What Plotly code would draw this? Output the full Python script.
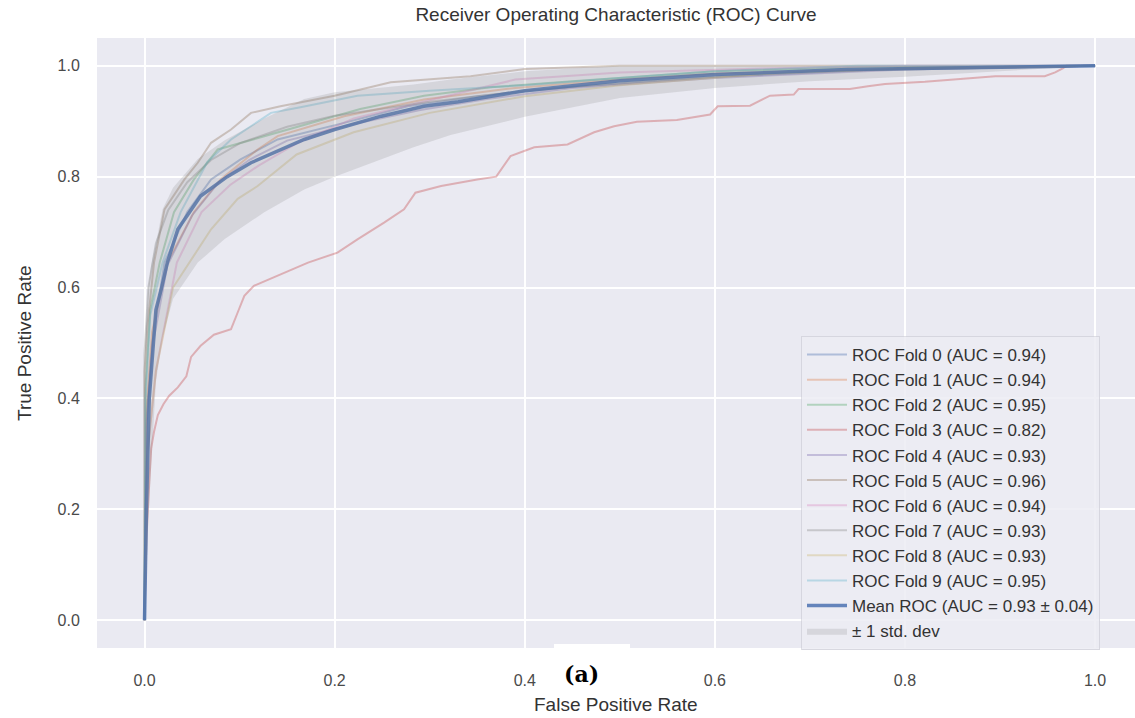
import plotly.graph_objects as go

# ---------------- data ----------------
fold_names = [f"ROC Fold {i}" for i in range(10)]
fold_auc = [0.94, 0.94, 0.95, 0.82, 0.93, 0.96, 0.94, 0.93, 0.93, 0.95]
fold_colors = ["#4C72B0", "#DD8452", "#55A868", "#C44E52", "#8172B3",
               "#937860", "#DA8BC3", "#8C8C8C", "#CCB974", "#64B5CD"]

fold0_fpr = [0, 0.002, 0.008, 0.021, 0.045, 0.07, 0.101, 0.14, 0.21, 0.277, 0.35, 0.45, 0.6, 0.8, 1.0]
fold0_tpr = [0, 0.36, 0.5, 0.645, 0.736, 0.795, 0.831, 0.867, 0.897, 0.927, 0.945, 0.962, 0.98, 0.995, 1.0]

fold1_fpr = [0, 0.002, 0.008, 0.024, 0.052, 0.08, 0.119, 0.14, 0.21, 0.294, 0.39, 0.5, 0.6, 0.8, 1.0]
fold1_tpr = [0, 0.38, 0.52, 0.645, 0.736, 0.795, 0.849, 0.873, 0.909, 0.939, 0.96, 0.975, 0.986, 0.995, 1.0]

fold2_fpr = [0, 0.001, 0.006, 0.016, 0.031, 0.052, 0.077, 0.11, 0.15, 0.227, 0.294, 0.364, 0.45, 0.6, 0.75, 1.0]
fold2_tpr = [0, 0.42, 0.56, 0.645, 0.736, 0.795, 0.849, 0.865, 0.885, 0.922, 0.946, 0.961, 0.972, 0.99, 0.997, 1.0]

fold3_fpr = [0, 0.002, 0.005, 0.007, 0.010, 0.014, 0.020, 0.026, 0.035, 0.044, 0.049, 0.059, 0.073,
             0.091, 0.098, 0.105, 0.115, 0.14, 0.172, 0.203, 0.224, 0.252, 0.273, 0.285, 0.312, 0.35,
             0.37, 0.385, 0.41, 0.445, 0.473, 0.494, 0.518, 0.56, 0.595, 0.603, 0.637, 0.658, 0.683,
             0.688, 0.742, 0.761, 0.779, 0.821, 0.856, 0.895, 0.947, 0.958, 0.966, 0.97, 1.0]
fold3_tpr = [0, 0.15, 0.25, 0.31, 0.34, 0.37, 0.39, 0.405, 0.42, 0.44, 0.475, 0.495, 0.515,
             0.525, 0.555, 0.585, 0.603, 0.621, 0.645, 0.663, 0.687, 0.717, 0.741, 0.771, 0.783, 0.795,
             0.80, 0.837, 0.853, 0.858, 0.88, 0.891, 0.899, 0.902, 0.912, 0.927, 0.928, 0.946, 0.948,
             0.958, 0.958, 0.963, 0.967, 0.971, 0.976, 0.981, 0.981, 0.988, 0.995, 1.0, 1.0]

fold4_fpr = [0, 0.002, 0.009, 0.024, 0.05, 0.078, 0.11, 0.15, 0.22, 0.29, 0.36, 0.45, 0.6, 0.8, 1.0]
fold4_tpr = [0, 0.35, 0.5, 0.64, 0.73, 0.79, 0.83, 0.865, 0.895, 0.92, 0.94, 0.96, 0.978, 0.993, 1.0]

fold5_fpr = [0, 0.0, 0.003, 0.010, 0.021, 0.032, 0.042, 0.056, 0.070, 0.091, 0.112, 0.143, 0.20, 0.259, 0.343, 0.40, 0.50, 0.65, 1.0]
fold5_tpr = [0, 0.45, 0.53, 0.645, 0.741, 0.77, 0.795, 0.825, 0.861, 0.885, 0.915, 0.927, 0.946, 0.97, 0.981, 0.994, 1.0, 1.0, 1.0]

fold6_fpr = [0, 0.003, 0.012, 0.034, 0.06, 0.09, 0.12, 0.16, 0.22, 0.283, 0.39, 0.5, 0.65, 0.8, 1.0]
fold6_tpr = [0, 0.30, 0.45, 0.645, 0.736, 0.785, 0.82, 0.86, 0.905, 0.931, 0.975, 0.988, 0.995, 1.0, 1.0]

fold7_fpr = [0, 0.0, 0.004, 0.012, 0.025, 0.045, 0.07, 0.1, 0.15, 0.2, 0.3, 0.4, 0.55, 0.7, 1.0]
fold7_tpr = [0, 0.48, 0.6, 0.68, 0.74, 0.79, 0.83, 0.86, 0.89, 0.91, 0.935, 0.955, 0.975, 0.99, 1.0]

fold8_fpr = [0, 0.003, 0.012, 0.03, 0.07, 0.098, 0.119, 0.16, 0.22, 0.3, 0.4, 0.5, 0.65, 0.8, 1.0]
fold8_tpr = [0, 0.3, 0.45, 0.6, 0.705, 0.76, 0.783, 0.84, 0.88, 0.915, 0.945, 0.965, 0.985, 0.995, 1.0]

fold9_fpr = [0, 0.001, 0.006, 0.019, 0.038, 0.066, 0.091, 0.133, 0.164, 0.224, 0.30, 0.40, 0.50, 0.60, 0.75, 1.0]
fold9_tpr = [0, 0.40, 0.55, 0.645, 0.736, 0.826, 0.867, 0.915, 0.925, 0.946, 0.955, 0.965, 0.978, 0.99, 1.0, 1.0]

fold_fpr = [fold0_fpr, fold1_fpr, fold2_fpr, fold3_fpr, fold4_fpr,
            fold5_fpr, fold6_fpr, fold7_fpr, fold8_fpr, fold9_fpr]
fold_tpr = [fold0_tpr, fold1_tpr, fold2_tpr, fold3_tpr, fold4_tpr,
            fold5_tpr, fold6_tpr, fold7_tpr, fold8_tpr, fold9_tpr]

mean_fpr = [0, 0.002, 0.005, 0.012, 0.018, 0.024, 0.035, 0.059, 0.087, 0.112, 0.168, 0.20,
            0.249, 0.294, 0.33, 0.40, 0.50, 0.60, 0.74, 0.85, 1.0]
mean_tpr = [0, 0.20, 0.40, 0.56, 0.60, 0.645, 0.705, 0.765, 0.80, 0.825, 0.867, 0.885,
            0.909, 0.927, 0.935, 0.955, 0.973, 0.984, 0.993, 0.996, 1.0]
mean_auc = 0.93
std_auc = 0.04

band_fpr = [0, 0.001, 0.004, 0.007, 0.012, 0.019, 0.03, 0.056, 0.084, 0.126, 0.168, 0.2,
            0.283, 0.322, 0.4, 0.5, 0.6, 0.7, 0.8, 0.9, 1.0]
band_lower = [0, 0.04, 0.18, 0.278, 0.43, 0.51, 0.58, 0.645, 0.687, 0.736, 0.777, 0.80,
              0.853, 0.875, 0.908, 0.942, 0.96, 0.972, 0.98, 0.99, 1.0]
band_upper = [0.42, 0.52, 0.6, 0.64, 0.68, 0.741, 0.78, 0.832, 0.865, 0.905, 0.94, 0.952,
              0.966, 0.975, 0.99, 1.0, 1.0, 1.0, 1.0, 1.0, 1.0]

x_ticks = [0.0, 0.2, 0.4, 0.6, 0.8, 1.0]
y_ticks = [0.0, 0.2, 0.4, 0.6, 0.8, 1.0]


def rgba(hex_color, a):
    h = hex_color.lstrip("#")
    r, g, b = int(h[0:2], 16), int(h[2:4], 16), int(h[4:6], 16)
    return f"rgba({r},{g},{b},{a})"


fig = go.Figure()

for i in range(10):
    fig.add_trace(go.Scatter(
        x=fold_fpr[i], y=fold_tpr[i], mode="lines",
        name=f"{fold_names[i]} (AUC = {fold_auc[i]:.2f})",
        line=dict(color=rgba(fold_colors[i], 0.38), width=2),
        legendgroup=f"g{i}",
    ))

fig.add_trace(go.Scatter(
    x=mean_fpr, y=mean_tpr, mode="lines",
    name=f"Mean ROC (AUC = {mean_auc:.2f} \u00b1 {std_auc:.2f})",
    line=dict(color=rgba("#4C72B0", 0.85), width=3.5),
    legendgroup="mean",
))

fig.add_trace(go.Scatter(
    x=band_fpr + band_fpr[::-1], y=band_upper + band_lower[::-1],
    mode="lines", fill="toself", fillcolor="rgba(128,128,128,0.2)",
    line=dict(width=0, color="rgba(128,128,128,0)"),
    name="\u00b1 1 std. dev", legendgroup="std",
))

W, H = 1135, 718
L, R, T, B = 97, 0, 38, 70
pw, ph = W - L - R, H - T - B


def px(xp):
    return (xp - L) / pw


def py(yp):
    return (T + ph - yp) / ph


font_main = "Liberation Sans, Arial, sans-serif"

fig.update_layout(
    width=W, height=H,
    margin=dict(l=L, r=R, t=T, b=B, pad=0, autoexpand=False),
    paper_bgcolor="white", plot_bgcolor="#EAEAF2",
    font=dict(family=font_main, color="#333333"),
    title=dict(text="Receiver Operating Characteristic (ROC) Curve",
               x=0.5, xanchor="center", xref="paper",
               y=1 - 14 / H, yanchor="middle", yref="container",
               font=dict(size=19, color="#333333")),
    xaxis=dict(range=[-0.05, 1.042], tickvals=x_ticks, tickformat=".1f",
               showgrid=True, gridcolor="white", gridwidth=1.6, zeroline=False,
               showline=False, ticks="outside", ticklen=18, tickcolor="rgba(0,0,0,0)",
               tickfont=dict(size=16, color="#4a4a4a"), automargin=False),
    yaxis=dict(range=[-0.05, 1.05], tickvals=y_ticks, tickformat=".1f",
               showgrid=True, gridcolor="white", gridwidth=1.6, zeroline=False,
               showline=False, ticks="outside", ticklen=13, tickcolor="rgba(0,0,0,0)",
               tickfont=dict(size=16, color="#4a4a4a"), automargin=False),
    showlegend=True,
    legend=dict(x=px(801), y=py(336), xanchor="left", yanchor="top",
                bgcolor="rgba(236,236,243,0.85)", bordercolor="rgba(200,200,210,0.6)",
                borderwidth=1, font=dict(size=17, color="#333333"),
                itemwidth=40, traceorder="grouped", tracegroupgap=0),
    shapes=[dict(type="rect", xref="paper", yref="paper",
                 x0=px(554), x1=px(630), y0=py(690), y1=py(644),
                 fillcolor="white", line=dict(width=0), layer="above")],
    annotations=[
        dict(text="False Positive Rate", xref="paper", yref="paper",
             x=0.5, y=py(704), xanchor="center", yanchor="middle",
             showarrow=False, font=dict(size=19, color="#333333")),
        dict(text="True Positive Rate", xref="paper", yref="paper",
             x=px(24), y=0.5, xanchor="center", yanchor="middle", textangle=-90,
             showarrow=False, font=dict(size=19, color="#333333")),
        dict(text="<b>(a)</b>", xref="paper", yref="paper",
             x=px(581), y=py(674), xanchor="center", yanchor="middle",
             showarrow=False, font=dict(size=22, color="black",
                                        family="DejaVu Serif, Liberation Serif, serif")),
    ],
)

fig.write_html(
    "out.html",
    config={"displayModeBar": False},
    post_script="document.body.style.margin='0';document.body.style.padding='0';"
                "document.body.style.overflow='hidden';"
                "document.documentElement.style.overflow='hidden';",
)
